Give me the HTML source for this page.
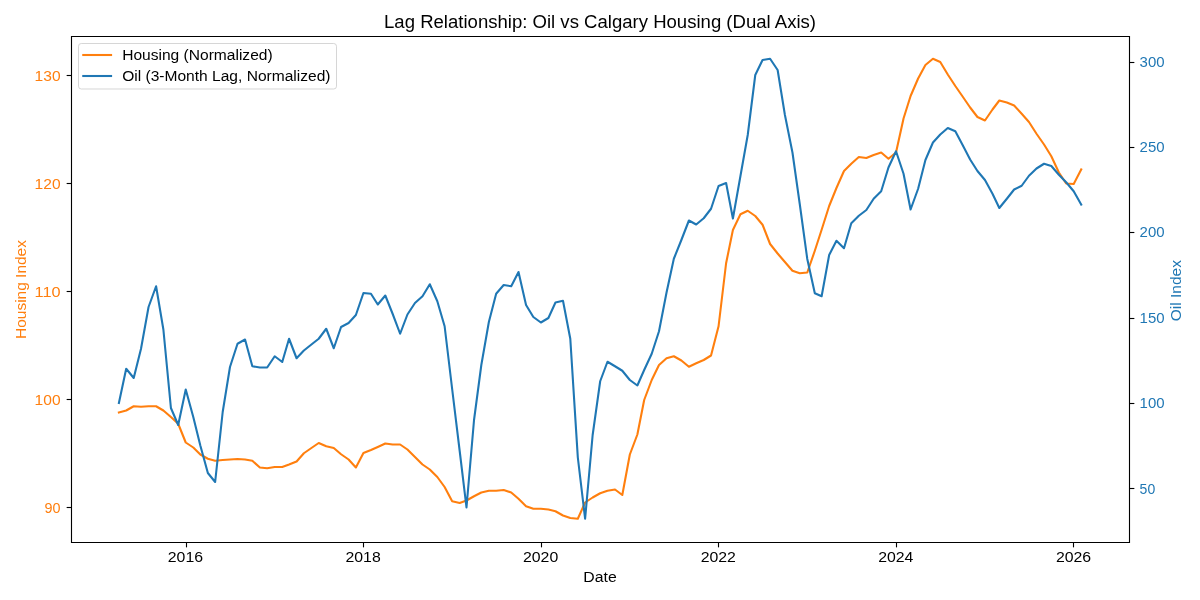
<!DOCTYPE html>
<html><head><meta charset="utf-8"><title>Lag Relationship: Oil vs Calgary Housing (Dual Axis)</title>
<style>
html,body{margin:0;padding:0;background:#fff;}
body{width:1200px;height:600px;overflow:hidden;}
svg{display:block;will-change:transform;font-family:"Liberation Sans", sans-serif;}
</style></head><body>
<svg width="1200" height="600" viewBox="0 0 1200 600">
<rect width="1200" height="600" fill="#fff"/>
<text x="600.06" y="28.00" font-size="17.5" text-anchor="middle" fill="#000000" textLength="432.00" lengthAdjust="spacingAndGlyphs">Lag Relationship: Oil vs Calgary Housing (Dual Axis)</text>
<polyline points="118.89,412.50 126.19,410.50 133.72,406.25 141.01,406.75 148.55,406.25 156.09,406.25 163.38,410.50 170.91,417.00 178.20,423.75 185.74,442.50 193.28,447.50 200.32,454.50 207.86,458.75 215.15,460.75 222.69,460.00 229.98,459.50 237.52,459.00 245.05,459.50 252.34,460.75 259.88,467.50 267.17,468.25 274.71,467.00 282.24,467.00 289.05,464.50 296.58,461.50 303.88,453.25 311.41,448.00 318.70,443.00 326.24,446.25 333.77,448.00 341.07,454.25 348.60,459.50 355.89,467.50 363.43,453.00 370.96,450.00 377.77,447.00 385.31,443.50 392.60,444.50 400.13,444.50 407.43,449.50 414.96,457.00 422.50,464.50 429.79,469.50 437.32,477.00 444.62,487.00 452.15,501.25 459.69,503.00 466.49,500.50 474.03,496.25 481.32,492.50 488.86,490.75 496.15,490.75 503.68,490.00 511.22,492.50 518.51,498.75 526.05,506.25 533.34,508.75 540.87,508.75 548.41,509.50 555.46,511.25 562.99,515.50 570.29,518.00 577.82,518.75 585.11,502.50 592.65,497.50 600.18,493.25 607.48,490.75 615.01,489.50 622.30,495.00 629.84,454.50 637.37,434.50 644.18,400.00 651.72,380.00 659.01,365.00 666.54,358.25 673.84,356.25 681.37,360.50 688.91,366.75 696.20,363.25 703.73,360.00 711.03,355.50 718.56,326.25 726.10,263.25 732.90,230.00 740.44,214.25 747.73,210.75 755.27,216.00 762.56,224.75 770.09,244.00 777.63,253.50 784.92,262.00 792.46,270.75 799.75,273.25 807.28,272.50 814.82,250.75 821.63,229.75 829.16,206.00 836.45,188.00 843.99,171.00 851.28,163.75 858.82,157.00 866.35,158.00 873.64,155.00 881.18,152.50 888.47,158.75 896.01,152.50 903.54,118.50 910.59,96.00 918.13,78.50 925.42,65.00 932.95,58.75 940.25,62.00 947.78,74.50 955.32,86.00 962.61,96.50 970.14,107.50 977.44,117.00 984.97,120.50 992.51,109.50 999.31,100.50 1006.85,102.50 1014.14,105.50 1021.68,113.75 1028.97,122.00 1036.50,133.75 1044.04,144.50 1051.33,156.25 1058.87,172.50 1066.16,183.50 1073.70,184.00 1081.23,169.50" fill="none" stroke="#ff7f0e" stroke-width="2.083" stroke-linejoin="round" stroke-linecap="square"/>
<rect x="78.5" y="43.5" width="258" height="45.5" rx="2.8" ry="2.8" fill="#ffffff" fill-opacity="0.8" stroke="#cccccc" stroke-opacity="0.8" stroke-width="1"/>
<line x1="83.28" y1="55" x2="111.06" y2="55" stroke="#ff7f0e" stroke-width="2.083" stroke-linecap="square"/>
<line x1="83.28" y1="76" x2="111.06" y2="76" stroke="#1f77b4" stroke-width="2.083" stroke-linecap="square"/>
<text x="122.17" y="60.00" font-size="14.58" text-anchor="start" fill="#000000" textLength="150.50" lengthAdjust="spacingAndGlyphs">Housing (Normalized)</text>
<text x="122.17" y="81.00" font-size="14.58" text-anchor="start" fill="#000000" textLength="208.38" lengthAdjust="spacingAndGlyphs">Oil (3-Month Lag, Normalized)</text>
<polyline points="118.89,403.00 126.19,368.75 133.72,378.00 141.01,348.75 148.55,307.00 156.09,286.25 163.38,329.50 170.91,408.00 178.20,425.00 185.74,389.50 193.28,417.00 200.32,445.50 207.86,473.00 215.15,482.00 222.69,412.00 229.98,367.00 237.52,343.75 245.05,339.50 252.34,366.25 259.88,367.50 267.17,367.50 274.71,356.25 282.24,362.00 289.05,338.75 296.58,358.25 303.88,350.50 311.41,344.50 318.70,338.75 326.24,328.75 333.77,348.25 341.07,327.00 348.60,323.00 355.89,315.00 363.43,293.00 370.96,293.75 377.77,304.50 385.31,295.50 392.60,313.75 400.13,333.75 407.43,314.50 414.96,303.00 422.50,296.25 429.79,284.25 437.32,301.25 444.62,326.25 452.15,389.00 459.69,451.00 466.49,507.50 474.03,420.00 481.32,365.00 488.86,322.00 496.15,293.75 503.68,285.00 511.22,286.25 518.51,272.00 526.05,305.00 533.34,317.00 540.87,322.50 548.41,318.00 555.46,302.50 562.99,300.75 570.29,338.75 577.82,457.50 585.11,518.75 592.65,435.00 600.18,381.25 607.48,361.75 615.01,366.25 622.30,370.75 629.84,380.00 637.37,385.50 644.18,370.00 651.72,353.75 659.01,331.25 666.54,292.50 673.84,258.75 681.37,240.00 688.91,220.50 696.20,224.50 703.73,218.25 711.03,208.75 718.56,186.00 726.10,183.00 732.90,218.50 740.44,176.00 747.73,135.00 755.27,75.00 762.56,60.00 770.09,58.75 777.63,70.00 784.92,115.00 792.46,152.50 799.75,204.00 807.28,259.00 814.82,293.25 821.63,296.25 829.16,255.00 836.45,240.75 843.99,248.25 851.28,223.25 858.82,215.75 866.35,210.00 873.64,198.75 881.18,191.25 888.47,167.50 896.01,151.25 903.54,173.75 910.59,209.50 918.13,188.75 925.42,160.00 932.95,142.50 940.25,134.50 947.78,128.00 955.32,131.25 962.61,145.00 970.14,159.50 977.44,171.00 984.97,180.00 992.51,193.75 999.31,208.00 1006.85,198.75 1014.14,189.50 1021.68,185.75 1028.97,175.75 1036.50,168.50 1044.04,163.75 1051.33,166.00 1058.87,174.75 1066.16,182.25 1073.70,191.25 1081.23,204.50" fill="none" stroke="#1f77b4" stroke-width="2.083" stroke-linejoin="round" stroke-linecap="square"/>
<path d="M71.5,36.5 V542.5 H1129.5 V36.5 Z" stroke="#000" stroke-width="1.111" fill="none" stroke-linecap="square" stroke-linejoin="miter"/>
<g stroke="#000" stroke-width="1.111" fill="none">
<line x1="186.5" y1="542.5" x2="186.5" y2="547.36"/>
<line x1="363.5" y1="542.5" x2="363.5" y2="547.36"/>
<line x1="541.5" y1="542.5" x2="541.5" y2="547.36"/>
<line x1="718.5" y1="542.5" x2="718.5" y2="547.36"/>
<line x1="896.5" y1="542.5" x2="896.5" y2="547.36"/>
<line x1="1073.5" y1="542.5" x2="1073.5" y2="547.36"/>
<line x1="66.64" y1="75.5" x2="71.5" y2="75.5"/>
<line x1="66.64" y1="183.5" x2="71.5" y2="183.5"/>
<line x1="66.64" y1="291.5" x2="71.5" y2="291.5"/>
<line x1="66.64" y1="399.5" x2="71.5" y2="399.5"/>
<line x1="66.64" y1="507.5" x2="71.5" y2="507.5"/>
<line x1="1129.5" y1="62.5" x2="1134.36" y2="62.5"/>
<line x1="1129.5" y1="147.5" x2="1134.36" y2="147.5"/>
<line x1="1129.5" y1="232.5" x2="1134.36" y2="232.5"/>
<line x1="1129.5" y1="318.5" x2="1134.36" y2="318.5"/>
<line x1="1129.5" y1="403.5" x2="1134.36" y2="403.5"/>
<line x1="1129.5" y1="488.5" x2="1134.36" y2="488.5"/>
</g>
<text x="185.40" y="562.00" font-size="14.58" text-anchor="middle" fill="#000000" textLength="35.25" lengthAdjust="spacingAndGlyphs">2016</text>
<text x="363.10" y="562.00" font-size="14.58" text-anchor="middle" fill="#000000" textLength="35.25" lengthAdjust="spacingAndGlyphs">2018</text>
<text x="540.60" y="562.00" font-size="14.58" text-anchor="middle" fill="#000000" textLength="35.25" lengthAdjust="spacingAndGlyphs">2020</text>
<text x="718.30" y="562.00" font-size="14.58" text-anchor="middle" fill="#000000" textLength="35.25" lengthAdjust="spacingAndGlyphs">2022</text>
<text x="895.80" y="562.00" font-size="14.58" text-anchor="middle" fill="#000000" textLength="35.25" lengthAdjust="spacingAndGlyphs">2024</text>
<text x="1073.50" y="562.00" font-size="14.58" text-anchor="middle" fill="#000000" textLength="35.25" lengthAdjust="spacingAndGlyphs">2026</text>
<text x="60.56" y="80.50" font-size="14.58" text-anchor="end" fill="#ff7f0e" textLength="26.00" lengthAdjust="spacingAndGlyphs">130</text>
<text x="60.56" y="188.50" font-size="14.58" text-anchor="end" fill="#ff7f0e" textLength="26.00" lengthAdjust="spacingAndGlyphs">120</text>
<text x="60.56" y="296.50" font-size="14.58" text-anchor="end" fill="#ff7f0e" textLength="26.00" lengthAdjust="spacingAndGlyphs">110</text>
<text x="60.56" y="404.50" font-size="14.58" text-anchor="end" fill="#ff7f0e" textLength="26.00" lengthAdjust="spacingAndGlyphs">100</text>
<text x="60.40" y="512.50" font-size="14.58" text-anchor="end" fill="#ff7f0e" textLength="16.00" lengthAdjust="spacingAndGlyphs">90</text>
<text x="1139.60" y="66.90" font-size="14.58" text-anchor="start" fill="#1f77b4" textLength="25.00" lengthAdjust="spacingAndGlyphs">300</text>
<text x="1139.60" y="151.90" font-size="14.58" text-anchor="start" fill="#1f77b4" textLength="25.00" lengthAdjust="spacingAndGlyphs">250</text>
<text x="1139.60" y="236.90" font-size="14.58" text-anchor="start" fill="#1f77b4" textLength="25.00" lengthAdjust="spacingAndGlyphs">200</text>
<text x="1139.60" y="322.90" font-size="14.58" text-anchor="start" fill="#1f77b4" textLength="25.00" lengthAdjust="spacingAndGlyphs">150</text>
<text x="1139.60" y="407.90" font-size="14.58" text-anchor="start" fill="#1f77b4" textLength="25.00" lengthAdjust="spacingAndGlyphs">100</text>
<text x="1139.60" y="493.50" font-size="14.58" text-anchor="start" fill="#1f77b4" textLength="15.60" lengthAdjust="spacingAndGlyphs">50</text>
<text x="600.06" y="582.00" font-size="14.58" text-anchor="middle" fill="#000000" textLength="33.38" lengthAdjust="spacingAndGlyphs">Date</text>
<text transform="translate(26,289.5) rotate(-90)" x="0" y="0" font-size="14.58" text-anchor="middle" fill="#ff7f0e" textLength="98.75" lengthAdjust="spacingAndGlyphs">Housing Index</text>
<text transform="translate(1181,290.7) rotate(-90)" x="0" y="0" font-size="14.58" text-anchor="middle" fill="#1f77b4" textLength="61.12" lengthAdjust="spacingAndGlyphs">Oil Index</text>
</svg>
</body></html>
